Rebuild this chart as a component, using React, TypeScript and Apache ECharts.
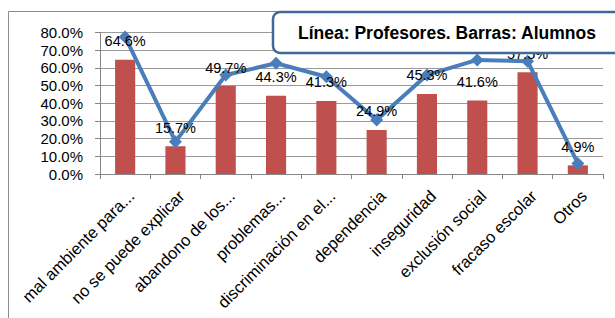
import React, { useEffect, useRef } from "react";
import * as echarts from "echarts";

const categories = [
  "mal ambiente para...",
  "no se puede explicar",
  "abandono de los...",
  "problemas...",
  "discriminación en el...",
  "dependencia",
  "inseguridad",
  "exclusión social",
  "fracaso escolar",
  "Otros",
];
const alumnos = [64.6, 15.7, 49.7, 44.3, 41.3, 24.9, 45.3, 41.6, 57.5, 4.9];
const profesores = [77.5, 18.3, 56.0, 62.6, 55.0, 30.5, 56.0, 64.5, 63.8, 6.0];
const yTicks = { min: 0, max: 80, interval: 10 };
const titleText = "Línea: Profesores. Barras: Alumnos";

const FONT = "'Liberation Sans', Arial, sans-serif";

export default function App() {
  const ref = useRef<HTMLDivElement>(null);
  useEffect(() => {
    if (!ref.current) return;
    const chart = echarts.init(ref.current, null, { renderer: "svg" });
    const pct = (p: any) => Number(p.value).toFixed(1) + "%";
    chart.setOption({
      animation: false,
      backgroundColor: "#fff",
      textStyle: { fontFamily: FONT },
      grid: { left: 100, right: 12, top: 32.5, bottom: 144, containLabel: false },
      xAxis: {
        type: "category",
        data: categories,
        boundaryGap: true,
        axisLine: { lineStyle: { color: "#868686", width: 1 } },
        axisTick: { show: true, alignWithLabel: false, length: 5, lineStyle: { color: "#868686" } },
        axisLabel: {
          rotate: 45,
          interval: 0,
          margin: 13,
          fontSize: 16.5,
          color: "#000",
          fontFamily: FONT,
          verticalAlign: "top",
        },
        splitLine: { show: false },
      },
      yAxis: {
        type: "value",
        min: yTicks.min,
        max: yTicks.max,
        interval: yTicks.interval,
        axisLine: { show: true, lineStyle: { color: "#868686", width: 1 } },
        axisTick: { show: true, length: 5, lineStyle: { color: "#868686" } },
        axisLabel: {
          margin: 17,
          fontSize: 15,
          color: "#000",
          fontFamily: FONT,
          formatter: (v: number) => v.toFixed(1) + "%",
        },
        splitLine: { show: true, lineStyle: { color: "#9a9a9a", width: 1 } },
      },
      series: [
        {
          name: "Alumnos",
          type: "bar",
          data: alumnos,
          barWidth: "40%",
          barGap: "-100%",
          itemStyle: { color: "#C0504D" },
          label: { show: false },
          z: 2,
        },
        {
          name: "Profesores",
          type: "line",
          data: profesores,
          symbol: "diamond",
          symbolSize: 13,
          lineStyle: { color: "#4A7EBB", width: 4 },
          itemStyle: { color: "#4A7EBB" },
          label: { show: false },
          z: 3,
        },
        {
          name: "AlumnosEtiquetas",
          type: "bar",
          data: alumnos,
          barWidth: "40%",
          barGap: "-100%",
          silent: true,
          itemStyle: { color: "rgba(0,0,0,0)" },
          label: {
            show: true,
            position: "top",
            distance: 11,
            fontSize: 14.5,
            color: "#000",
            fontFamily: FONT,
            formatter: pct,
          },
          z: 5,
        },
      ],
      graphic: {
        elements: [
          {
            type: "rect",
            z: 0,
            silent: true,
            shape: { x: 8.5, y: 11.5, width: 800, height: 400 },
            style: { fill: "none", stroke: "#8c8c8c", lineWidth: 1 },
          },
          {
            type: "rect",
            z: 100,
            silent: true,
            shape: { x: 273, y: 12, width: 400, height: 41, r: 7 },
            style: { fill: "#fff", stroke: "#41689b", lineWidth: 2.5 },
          },
          {
            type: "text",
            z: 101,
            silent: true,
            x: 447,
            y: 33,
            style: {
              text: titleText,
              fill: "#000",
              font: "bold 17.5px " + FONT,
              align: "center",
              verticalAlign: "middle",
            },
          },
        ],
      },
    });
    return () => chart.dispose();
  }, []);
  return (
    <div
      ref={ref}
      style={{ position: "absolute", left: 0, top: 0, width: 615, height: 318 }}
    />
  );
}
